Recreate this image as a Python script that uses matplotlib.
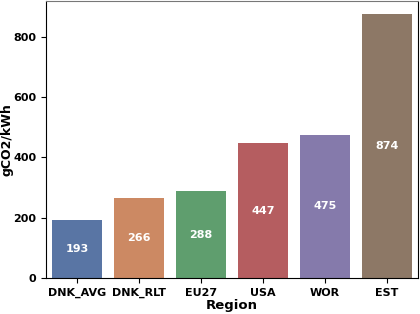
import matplotlib
matplotlib.use("Agg")
import matplotlib.pyplot as plt
import seaborn as sns
import pandas as pd

regions = ["DNK_AVG", "DNK_RLT", "EU27", "USA", "WOR", "EST"]
intensity = [193, 266, 288, 447, 475, 874]

df = pd.DataFrame({"Region": regions, "gCO2/kWh": intensity})

fig = plt.figure(figsize=(4.2, 3.14), dpi=100)
ax = fig.add_axes([46 / 420, 36 / 314, 372 / 420, 277 / 314])

sns.barplot(data=df, x="Region", y="gCO2/kWh", hue="Region",
            palette="deep", legend=False, ax=ax)

for i, v in enumerate(intensity):
    ax.text(i, v / 2, str(v), ha="center", va="center",
            color="white", fontweight="bold", fontsize=8)

ax.set_xlabel("Region", fontweight="bold", fontsize=9.5, labelpad=1)
ax.set_ylabel("gCO2/kWh", fontweight="bold", fontsize=9)
ax.yaxis.set_label_coords(-0.088, 0.5)
for lbl in ax.get_xticklabels() + ax.get_yticklabels():
    lbl.set_fontweight("bold")
    lbl.set_fontsize(8)
ax.set_yticks([0, 200, 400, 600, 800])
ax.spines["top"].set_color("#777777")

fig.savefig("out.png", dpi=100)
